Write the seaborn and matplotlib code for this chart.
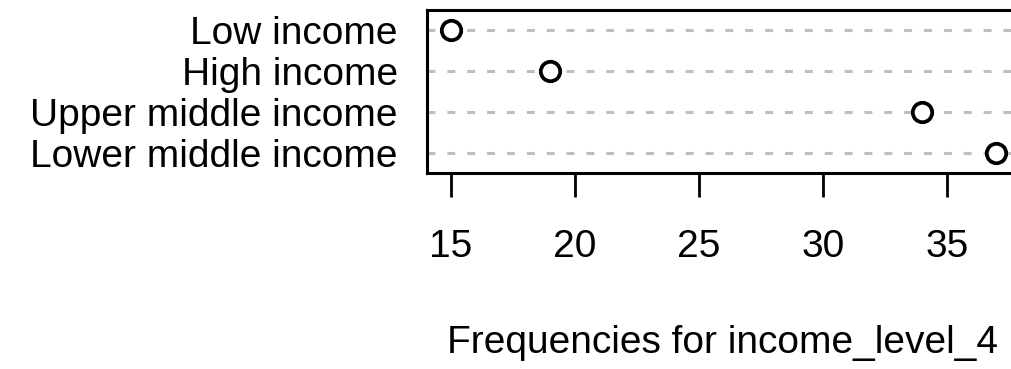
import matplotlib
matplotlib.use("Agg")
import matplotlib.pyplot as plt
import seaborn as sns
import pandas as pd

# ----------------------------
# Data
# ----------------------------
categories = ["Low income", "High income", "Upper middle income", "Lower middle income"]
frequencies = [15, 19, 34, 37]
x_ticks = [15, 20, 25, 30, 35]

df = pd.DataFrame({"level": categories, "freq": frequencies})

# ----------------------------
# Style
# ----------------------------
sns.set_theme(style="white")
plt.rcParams["font.family"] = ["Liberation Sans", "DejaVu Sans"]

fig = plt.figure(figsize=(10.12, 3.69), dpi=100)
ax = fig.add_axes([427 / 1012, 1 - 173 / 369, 591 / 1012, 163 / 369])

# dotted guide lines for each row
for i in range(len(categories)):
    ax.axhline(i, color="#bebebe", linewidth=2.2, linestyle=(0, (2.6, 3.9)), zorder=1)

sns.stripplot(data=df, x="freq", y="level", order=categories, jitter=False,
              marker="o", size=14, color="white", edgecolor="black", linewidth=2.7,
              ax=ax, zorder=3)

ax.set_xlim(14.04, 37.87)
ax.set_ylim(3.5, -0.5)
ax.set_xticks(x_ticks)
ax.set_xticklabels([str(t) for t in x_ticks])

for s in ax.spines.values():
    s.set_visible(True)
    s.set_color("black")
    s.set_linewidth(2.2)

ax.tick_params(axis="x", bottom=True, length=17.3, width=2.0, color="black",
               labelsize=28, pad=23, labelcolor="black")
ax.tick_params(axis="y", left=False, length=0, labelsize=28, pad=21, labelcolor="black")
ax.set_ylabel("")
ax.set_xlabel("Frequencies for income_level_4", fontsize=28, color="black")
ax.xaxis.set_label_coords(0.5, -0.935)
ax.grid(False)

fig.savefig("out.png", dpi=100)
